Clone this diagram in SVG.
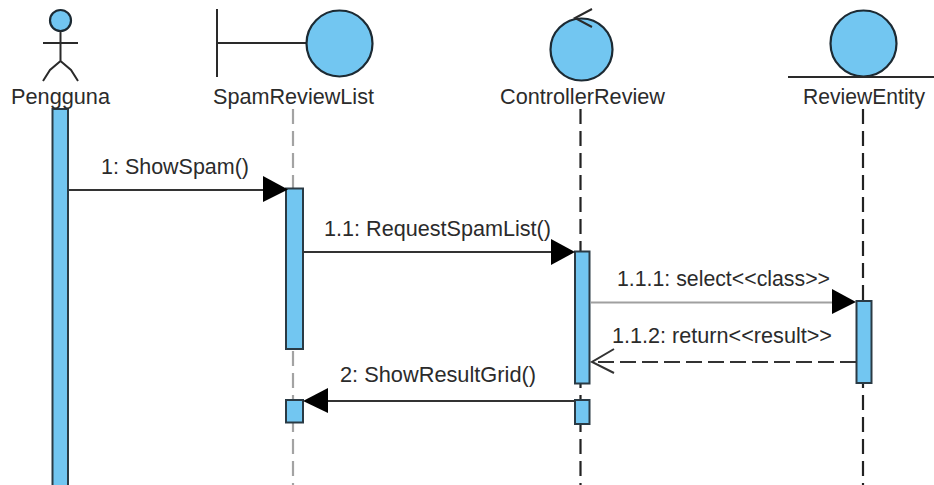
<svg xmlns="http://www.w3.org/2000/svg" width="934" height="485" viewBox="0 0 934 485">
<style>
.fig{fill:#72c6f1;stroke:#1c2a33;stroke-width:2.2}
.ln{fill:none;stroke:#2a2a2a;stroke-width:2}
.bar{fill:#72c6f1;stroke:#2a3a44;stroke-width:2}
.t{font-family:"Liberation Sans",Arial,sans-serif;font-size:21.5px;fill:#2b2b2b}
.m{stroke:#333;stroke-width:2;fill:none}
.head{fill:#000;stroke:none}
</style>
<rect width="934" height="485" fill="#fff"/>
<g id="lifelines">
<path d="M293 109V485" stroke="#a3a3a3" stroke-width="2.2" stroke-dasharray="15 7" fill="none"/>
<path d="M580.5 109V485" stroke="#222" stroke-width="2.2" stroke-dasharray="15 7" fill="none"/>
<path d="M863 109V485" stroke="#222" stroke-width="2.2" stroke-dasharray="15 7" fill="none"/>
</g>
<g id="Pengguna">
<circle class="fig" cx="60.500" cy="20.500" r="10.500"/>
<path class="ln" d="M43 43H78M60.500 31V61L50 70L43 81M60.500 61L71 70L78 81"/>
<rect class="bar" x="52.500" y="109" width="15.500" height="377"/>
<text class="t" x="11" y="104" textLength="99" lengthAdjust="spacingAndGlyphs">Pengguna</text>
</g>
<g id="SpamReviewList">
<path class="ln" d="M217 9V77M217 43H307"/>
<circle class="fig" cx="339.500" cy="43.500" r="33"/>
<rect class="bar" x="286" y="188.500" width="17" height="160.500"/>
<rect class="bar" x="286" y="400" width="17" height="22.500"/>
<text class="t" x="213" y="104" textLength="161" lengthAdjust="spacingAndGlyphs">SpamReviewList</text>
</g>
<g id="ControllerReview">
<circle class="fig" cx="581.500" cy="49.500" r="31"/>
<path class="ln" d="M592 9L575 18L592 27"/>
<rect class="bar" x="575" y="251.500" width="14.500" height="132"/>
<rect class="bar" x="575" y="400" width="14.500" height="24"/>
<text class="t" x="500" y="104" textLength="165" lengthAdjust="spacingAndGlyphs">ControllerReview</text>
</g>
<g id="ReviewEntity">
<circle class="fig" cx="863.500" cy="43.500" r="33"/>
<path class="ln" d="M788 77H934"/>
<rect class="bar" x="856.500" y="301" width="15" height="82"/>
<text class="t" x="803" y="104" textLength="122" lengthAdjust="spacingAndGlyphs">ReviewEntity</text>
</g>
<g id="connectors">
<path class="m" d="M69 190H266"/>
<path class="head" d="M263 176L288 189.500L263 202Z"/>
<text class="t" x="101" y="174" textLength="148" lengthAdjust="spacingAndGlyphs">1: ShowSpam()</text>
<path class="m" d="M303 252H553"/>
<path class="head" d="M551 239L575 252L551 265Z"/>
<text class="t" x="324" y="236" textLength="227" lengthAdjust="spacingAndGlyphs">1.1: RequestSpamList()</text>
<path d="M591 302.500H834" stroke="#a0a0a0" stroke-width="2" fill="none"/>
<path class="head" d="M832 289L856 302L832 314Z"/>
<text class="t" x="617" y="286" textLength="213" lengthAdjust="spacingAndGlyphs">1.1.1: select&lt;&lt;class&gt;&gt;</text>
<path class="m" d="M856 362H592" stroke-dasharray="16 6"/>
<path class="m" d="M614 349L592 362L614 373"/>
<text class="t" x="612" y="343" textLength="220" lengthAdjust="spacingAndGlyphs">1.1.2: return&lt;&lt;result&gt;&gt;</text>
<path class="m" d="M575 401H326"/>
<path class="head" d="M328 388L303 401L328 413Z"/>
<text class="t" x="340" y="382" textLength="196" lengthAdjust="spacingAndGlyphs">2: ShowResultGrid()</text>
</g>
</svg>
